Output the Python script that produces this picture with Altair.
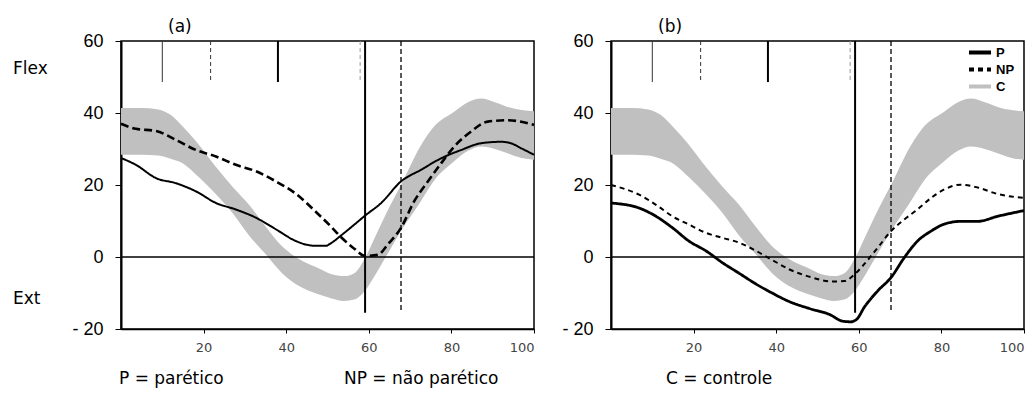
import altair as alt
import pandas as pd

GREY = "#c0c0c0"

# Control group band (lower / upper limits), shared by both panels
band_x = [0, 5, 9, 12, 15, 19, 23, 27, 31, 35, 39, 43, 47.6, 51, 54, 56.5, 59,
          61.3, 64.6, 67.8, 72.6, 76, 80.6, 84, 87.2, 90.5, 93.6, 97, 100]
band_lo = [28.4, 28.4, 28.2, 27.3, 26.0, 22.0, 17.4, 12.2, 6.0, 0.8, -4.5, -8.0, -10.3,
           -11.5, -12.2, -11.8, -9.5, -5.5, 1.0, 7.2, 15.5, 21.5, 26.5, 29.5, 30.7,
           30.0, 28.8, 27.5, 27.0]
band_hi = [41.4, 41.4, 41.0, 39.5, 36.2, 31.0, 25.0, 19.5, 14.5, 8.5, 3.0, -0.5, -3.0,
           -4.8, -5.3, -4.5, -0.5, 5.0, 13.0, 20.0, 31.0, 36.5, 40.3, 43.0, 44.0,
           43.0, 41.7, 40.8, 40.5]

# Panel (a): paretic (P) and non-paretic (NP) curves
a_p_x = [0, 3.6, 8.5, 13.3, 18.2, 23, 27.8, 32.7, 37.5, 42.4, 45, 47.2, 49.6, 50.8,
         53.3, 56.5, 59.1, 63, 67.8, 72.6, 77.5, 82.3, 87.2, 92, 94.4, 96.9, 100]
a_p_y = [27.5, 25.6, 21.9, 20.5, 18.2, 15.0, 13.2, 10.9, 7.7, 4.4, 3.4, 3.1, 3.1, 3.8,
         6.0, 9.0, 11.5, 15.0, 21.0, 24.2, 27.4, 29.7, 31.6, 32.0, 31.6, 30.2, 28.4]
a_np_x = [0, 3.6, 8.5, 13.3, 18.2, 23, 27.8, 32.7, 37.5, 42.4, 47.4, 50.8, 53.3, 56.5,
          59.1, 62.2, 64.6, 67.8, 71, 74.3, 77.5, 80.7, 84.7, 88.8, 93.6, 100]
a_np_y = [37.0, 35.6, 35.0, 32.5, 29.7, 27.9, 25.6, 23.8, 21.0, 17.5, 12.3, 8.5, 5.5,
          2.3, 0.3, 0.6, 3.5, 8.1, 15.5, 21.0, 26.0, 30.7, 34.8, 37.6, 38.0, 36.7]

# Panel (b)
b_p_x = [0, 6.8, 10.9, 14.9, 18.9, 23, 27, 31, 35.1, 39, 43, 48, 53, 56, 58, 59.5,
         61.3, 64.6, 67.8, 71, 74.2, 77.5, 80.6, 84.7, 88.8, 93.6, 100]
b_p_y = [15.0, 13.6, 11.3, 8.1, 4.4, 1.7, -1.6, -4.5, -7.5, -10.0, -12.3, -14.3, -16.0,
         -17.8, -18.0, -17.3, -14.0, -9.4, -5.7, -0.2, 4.4, 7.2, 9.1, 9.9, 9.9, 11.3, 12.9]
b_np_x = [0, 6.8, 10.9, 14.9, 18.9, 23, 27, 31, 35.1, 39, 43.1, 48.4, 53.3, 56.5, 59,
          61.3, 64.6, 67.8, 71, 74.2, 77.5, 80.6, 84.7, 88.8, 93.6, 100]
b_np_y = [20.0, 17.3, 14.5, 11.3, 9.0, 6.7, 5.3, 4.0, 1.7, -0.8, -3.4, -5.6, -6.8, -6.7,
          -4.8, -2.0, 2.6, 7.2, 10.4, 13.2, 16.4, 18.7, 20.1, 19.3, 17.5, 16.4]

# Gait events: full-height markers and short markers at the top
event_full_x = [59.1, 67.8]
event_full_bottom = [-15.5, -15.0]
event_short_x = [10, 21.7, 38, 57.9]
event_short_bottom = 48.6

series = ["P", "NP", "C"]
y_ticks = [-20, 0, 20, 40, 60]
x_ticks = [20, 40, 60, 80, 100]

X = alt.X(
    "x:Q",
    scale=alt.Scale(domain=[0, 100], nice=False, zero=False),
    axis=alt.Axis(values=x_ticks, title=None, grid=False, tickSize=4, tickColor="black",
                  domainColor="black", domainWidth=1.5, labelFont="DejaVu Sans",
                  labelFontSize=13, labelColor="#444", labelPadding=8),
)


def Yenc(field):
    return alt.Y(
        field,
        scale=alt.Scale(domain=[-20, 60], nice=False, zero=False),
        axis=alt.Axis(values=y_ticks, title=None, grid=False, tickSize=6, tickColor="black",
                      domainColor="black", domainWidth=2, labelFont="Liberation Sans",
                      labelFontSize=18, labelColor="black", labelPadding=12,
                      labelExpr="datum.value < 0 ? '- ' + abs(datum.value) : datum.label"),
    )


def text_layer(texts, xs, ys, size=17, font="DejaVu Sans"):
    layers = []
    for t, px, py in zip(texts, xs, ys):
        layers.append(
            alt.Chart(pd.DataFrame({"t": [t]}))
            .mark_text(align="left", baseline="middle", font=font, fontSize=size, color="black")
            .encode(text="t:N", x=alt.value(px), y=alt.value(py))
        )
    return layers


def panel(label, p_x, p_y, np_x, np_y, legend, texts, text_x, p_width, np_width, np_dash):
    band_df = pd.DataFrame({"x": band_x, "y": band_lo, "hi": band_hi})
    lines_df = pd.concat([
        pd.DataFrame({"x": p_x, "y": p_y, "series": "P", "w": p_width}),
        pd.DataFrame({"x": np_x, "y": np_y, "series": "NP", "w": np_width}),
    ])
    band = alt.Chart(band_df).mark_area(color=GREY, interpolate="monotone").encode(
        x=X, y=Yenc("y:Q"), y2="hi:Q")

    leg = None
    if legend:
        leg = alt.Legend(title=None, orient="none", legendX=356, legendY=4,
                         symbolType="stroke", symbolStrokeWidth=4, symbolSize=484,
                         clipHeight=15, rowPadding=2,
                         labelFont="Liberation Sans", labelFontSize=13,
                         labelFontWeight="bold", labelOffset=3)
    lines = alt.Chart(lines_df).mark_line(interpolate="monotone").encode(
        x=X, y=Yenc("y:Q"),
        color=alt.Color("series:N", scale=alt.Scale(domain=series, range=["black", "black", GREY]),
                        legend=leg),
        strokeDash=alt.StrokeDash("series:N",
                                  scale=alt.Scale(domain=series, range=[[1, 0], np_dash, [1, 0]]),
                                  legend=leg),
        strokeWidth=alt.StrokeWidth("w:Q", scale=None),
        order=alt.Order("x:Q"),
    )

    zero = alt.Chart(pd.DataFrame({"y": [0]})).mark_rule(color="black", strokeWidth=1.5).encode(
        y=Yenc("y:Q"))

    full_solid = alt.Chart(pd.DataFrame({"x": event_full_x[:1], "y": [60],
                                         "y2": event_full_bottom[:1]})).mark_rule(
        color="black", strokeWidth=2).encode(x=X, y=Yenc("y:Q"), y2="y2:Q")
    full_dash = alt.Chart(pd.DataFrame({"x": event_full_x[1:], "y": [60],
                                        "y2": event_full_bottom[1:]})).mark_rule(
        color="black", strokeWidth=1.3, strokeDash=[5, 3]).encode(x=X, y=Yenc("y:Q"), y2="y2:Q")

    def short(i, **style):
        df = pd.DataFrame({"x": [event_short_x[i]], "y": [60], "y2": [event_short_bottom]})
        return alt.Chart(df).mark_rule(**style).encode(x=X, y=Yenc("y:Q"), y2="y2:Q")

    shorts = [
        short(0, color="#333", strokeWidth=1),
        short(1, color="#333", strokeWidth=1, strokeDash=[4, 3]),
        short(2, color="black", strokeWidth=2),
        short(3, color="#999", strokeWidth=1, strokeDash=[4, 3]),
    ]

    labels = text_layer([label], [47], [-14], size=17, font="DejaVu Sans")
    notes = text_layer(texts, text_x, [338], size=17) if len(texts) == 1 else \
        text_layer(texts, text_x, [338] * len(texts), size=17)
    side = text_layer(["Flex", "Ext"], [-108, -108], [28, 258], size=17) if label == "(a)" else []

    return alt.layer(band, zero, full_solid, full_dash, *shorts, lines,
                     *labels, *notes, *side).properties(width=413, height=288)


left = panel("(a)", a_p_x, a_p_y, a_np_x, a_np_y, False,
             ["P = parético", "NP = não parético"], [-2, 223], 2.0, 2.6, [8, 4])
right = panel("(b)", b_p_x, b_p_y, b_np_x, b_np_y, True,
              ["C = controle"], [55], 2.8, 2.0, [5, 4])

chart = (
    alt.hconcat(left, right, spacing=77, bounds="flush")
    .resolve_scale(color="independent", strokeDash="independent")
    .properties(padding={"left": 12, "top": 17, "right": 0, "bottom": 0}, background="white")
    .configure_view(stroke="black", strokeWidth=1.5)
)

chart.save("out.html", embed_options={"renderer": "svg", "actions": False})
